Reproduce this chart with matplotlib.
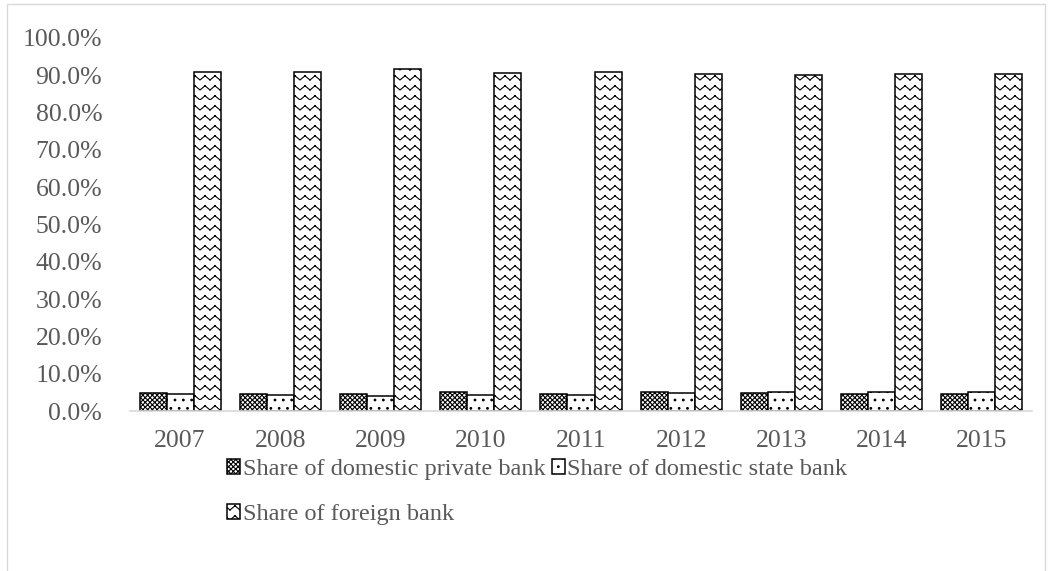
import warnings
warnings.filterwarnings("ignore")
import numpy as np
import matplotlib
matplotlib.use("Agg")
import matplotlib.pyplot as plt
import matplotlib.hatch as mhatch
from matplotlib.path import Path
from matplotlib.patches import Rectangle
from matplotlib.ticker import FuncFormatter

years = ["2007", "2008", "2009", "2010", "2011", "2012", "2013", "2014", "2015"]
private_share = [0.048, 0.046, 0.046, 0.052, 0.046, 0.050, 0.048, 0.045, 0.045]
state_share = [0.046, 0.044, 0.041, 0.043, 0.044, 0.047, 0.052, 0.050, 0.050]
foreign_share = [0.909, 0.909, 0.916, 0.906, 0.910, 0.903, 0.900, 0.903, 0.903]
series_labels = ["Share of domestic private bank", "Share of domestic state bank",
                 "Share of foreign bank"]
y_ticks = [0.0, 0.1, 0.2, 0.3, 0.4, 0.5, 0.6, 0.7, 0.8, 0.9, 1.0]


class ZigZagHatch(mhatch.HatchPatternBase):
    """Zig-zag hatch drawn as separate segments (so Agg's fill pass adds nothing)."""
    def __init__(self, hatch, density):
        self.num_rows = hatch.count('z') * 10
        self.num_teeth = 10
        nseg = 2 * self.num_teeth
        self.num_vertices = self.num_rows * nseg * 2 if self.num_rows else 0

    def set_vertices_and_codes(self, vertices, codes):
        nseg = 2 * self.num_teeth
        xs = np.linspace(0, 1, nseg + 1)
        amp = 0.42 / self.num_rows
        i = 0
        for r in range(self.num_rows):
            y0 = r / self.num_rows
            ys = y0 + np.where(np.arange(nseg + 1) % 2 == 1, amp, 0.0)
            for s in range(nseg):
                vertices[i] = (xs[s], ys[s])
                vertices[i + 1] = (xs[s + 1], ys[s + 1])
                codes[i] = Path.MOVETO
                codes[i + 1] = Path.LINETO
                i += 2


mhatch._hatch_types.append(ZigZagHatch)

plt.rcParams['font.family'] = ['Liberation Serif', 'DejaVu Serif']
plt.rcParams['hatch.linewidth'] = 0.8
plt.rcParams['hatch.color'] = 'black'

fig = plt.figure(figsize=(10.51, 5.71), dpi=100)
ax = fig.add_axes([130 / 1051, 160 / 571, (1032 - 130) / 1051, (411 - 38) / 571])

x = np.arange(len(years))
w = 0.27
hatches = ['xxxxxxx', '..', 'z']
data = [private_share, state_share, foreign_share]
bars = []
for k, (vals, h, lab) in enumerate(zip(data, hatches, series_labels)):
    b = ax.bar(x + (k - 1) * w, vals, width=w, color='white', edgecolor='black',
               linewidth=1.1, hatch=h, label=lab, zorder=2)
    bars.append(b)

ax.set_xlim(-0.5, len(years) - 0.5)
ax.set_ylim(0, 1.0)
ax.set_yticks(y_ticks)
ax.yaxis.set_major_formatter(FuncFormatter(lambda v, p: f"{v * 100:.1f}%"))
ax.set_xticks(x)
ax.set_xticklabels(years)
for s in ['top', 'right', 'left']:
    ax.spines[s].set_visible(False)
ax.spines['bottom'].set_color('#d9d9d9')
ax.spines['bottom'].set_linewidth(1.2)
ax.tick_params(axis='both', length=0, labelsize=18.5, labelcolor='#595959')
ax.tick_params(axis='y', pad=20)
ax.tick_params(axis='x', pad=14)

handles = [bars[0], bars[2], bars[1]]
labels = [series_labels[0], series_labels[2], series_labels[1]]
fig.legend(handles, labels, ncol=2, loc='upper left',
           bbox_to_anchor=(227 / 1051, 1 - 459 / 571), frameon=False,
           fontsize=17.5, labelcolor='#595959', handlelength=0.55, handleheight=0.55,
           handletextpad=0.1, columnspacing=0.25, labelspacing=1.0, borderpad=0,
           borderaxespad=0)

fig.patches.append(Rectangle((7 / 1051, -0.01), (1045 - 7) / 1051, 1.01 - 4 / 571,
                             transform=fig.transFigure, fill=False,
                             edgecolor='#d9d9d9', linewidth=1.0))

fig.savefig('out.png', dpi=100)
